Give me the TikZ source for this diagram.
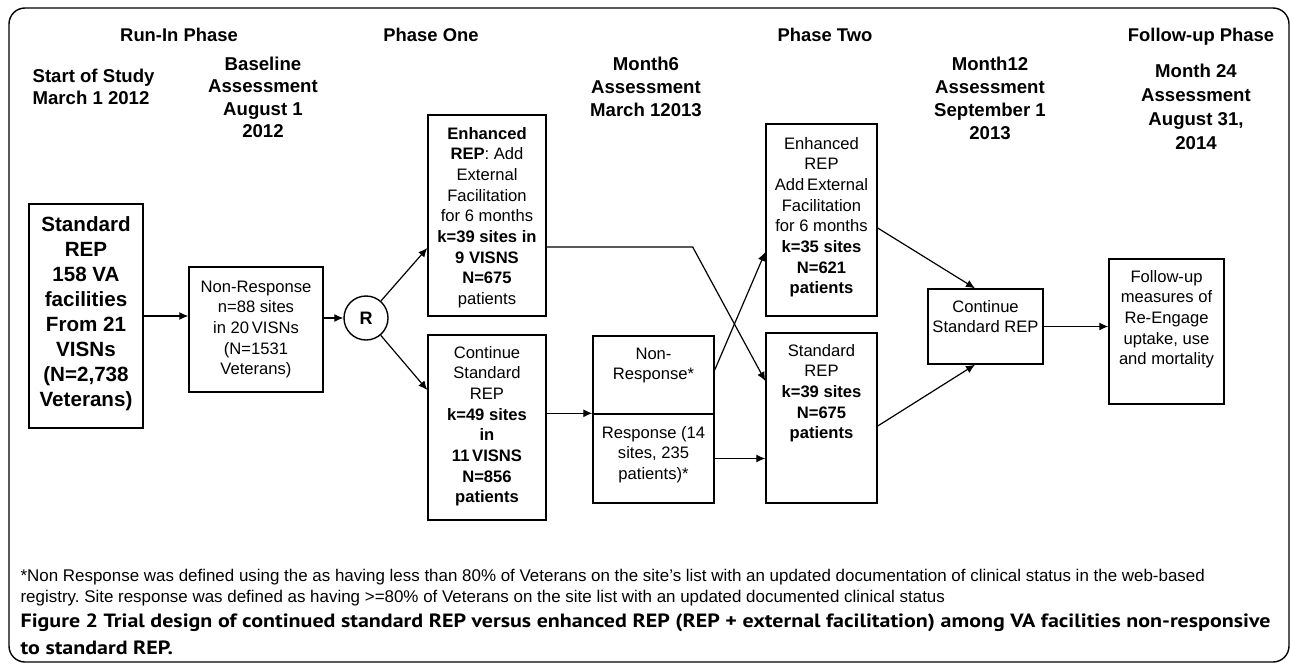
\documentclass[tikz,border=0pt]{standalone}
\usepackage{fontspec}
\setmainfont{Liberation Sans}
\newfontfamily\capfont[FakeStretch=1.145]{PT Sans}
\usetikzlibrary{arrows.meta,positioning,calc}

\newcommand{\boxtext}[4]{\parbox[c][#2][t]{#1}{\centering\rule{0pt}{#3}#4}}

\begin{document}
\begin{tikzpicture}[->,>={Latex[length=4.5pt,width=4pt]},x=0.5pt,y=-0.5pt,semithick]
  \tikzstyle{stage}=[draw=black,inner sep=0pt,line width=0.7pt,font=\fontsize{8.3}{10.35}\selectfont]
  \tikzstyle{phase}=[anchor=base,font=\bfseries\fontsize{9.2}{11}\selectfont]
  \tikzstyle{date}=[align=center,inner sep=0pt,anchor=north,font=\bfseries\fontsize{9.3}{11.3}\selectfont]

  \useasboundingbox (0,0) rectangle (1290,664);
  \draw[-,line width=0.7pt,rounded corners=8pt] (9,8) rectangle (1289,662);

  \node[phase] (runin) at (179,41.5) {Run-In Phase};
  \node[phase] (pone) at (431,41.5) {Phase One};
  \node[phase] (ptwo) at (825,41.5) {Phase Two};
  \node[phase] (pfu) at (1201,41.5) {Follow-up Phase};

  \node[date,anchor=north west,align=left] (start) at (32,68) {Start of Study\\March 1 2012};
  \node[date] (base) at (263,56) {Baseline\\Assessment\\August 1\\2012};
  \node[date,font=\bfseries\fontsize{9.3}{11.7}\selectfont] (m6) at (646,56) {Month6\\Assessment\\March 12013};
  \node[date,font=\bfseries\fontsize{9.3}{11.5}\selectfont] (m12) at (990,56) {Month12\\Assessment\\September 1\\2013};
  \node[date,font=\bfseries\fontsize{9.3}{12}\selectfont] (m24) at (1196,63) {Month 24\\Assessment\\August 31,\\2014};

  \node[stage] (std) at (86,316) {\boxtext{57pt}{112pt}{13.7pt}{\bfseries\fontsize{10.3}{12.5}\selectfont Standard\\REP\\158 VA\\facilities\\From 21\\VISNs\\(N=2,738\\Veterans)}};
  \node[stage] (nr) at (256,329.5) {\boxtext{67pt}{62.5pt}{12.5pt}{Non-Response\\n=88 sites\\in 20\,VISNs\\(N=1531\\Veterans)}};
  \node[stage,circle,minimum size=22pt,font=\bfseries\fontsize{9}{11}\selectfont] (R) at (366,318) {R};

  \node[stage] (enh1) at (487,215.5) {\boxtext{59pt}{100.5pt}{12pt}{\textbf{Enhanced}\\\textbf{REP}: Add\\External\\Facilitation\\for 6 months\\\textbf{k=39 sites in}\\\textbf{9 VISNS}\\\textbf{N=675}\\patients}};
  \node[stage] (cont1) at (487,427.5) {\boxtext{59pt}{92.5pt}{11.5pt}{Continue\\Standard\\REP\\\textbf{k=49 sites}\\\textbf{in}\\\textbf{11\,VISNS}\\\textbf{N=856}\\\textbf{patients}}};

  \node[stage] (nrsite) at (653.5,375) {\boxtext{60.5pt}{39pt}{11.5pt}{Non-\\Response*}};
  \node[stage] (resp) at (653.5,458.5) {\boxtext{60.5pt}{44.5pt}{12pt}{Response (14\\sites, 235\\patients)*}};

  \node[stage] (enh2) at (821.5,220) {\boxtext{55.5pt}{96pt}{12.5pt}{Enhanced\\REP\\Add\,External\\Facilitation\\for 6 months\\\textbf{k=35 sites}\\\textbf{N=621}\\\textbf{patients}}};
  \node[stage] (std2) at (821.5,418) {\boxtext{55.5pt}{85pt}{11.5pt}{Standard\\REP\\\textbf{k=39 sites}\\\textbf{N=675}\\\textbf{patients}}};
  \node[stage] (cont2) at (985.5,326.5) {\boxtext{57.5pt}{37.5pt}{11.5pt}{Continue\\Standard REP}};
  \node[stage] (fu) at (1166.5,331.5) {\boxtext{57.5pt}{72.5pt}{11.5pt}{Follow-up\\measures of\\Re-Engage\\uptake, use\\and mortality}};

  \node[anchor=north west,inner sep=0pt,align=left,font=\fontsize{8.47}{10.5}\selectfont] (note) at (20,569) {*Non Response was defined using the as having less than 80\% of Veterans on the site’s list with an updated documentation of clinical status in the web-based\\registry.\ Site response was defined as having >=80\% of Veterans on the site list with an updated documented clinical status};
  \node[anchor=north west,inner sep=0pt,align=left,font=\capfont\bfseries\fontsize{9.6}{13.5}\selectfont] (cap) at (20,613) {Figure 2 Trial design of continued standard REP versus enhanced REP (REP + external facilitation) among VA facilities non-responsive\\to standard REP.};

  \draw (std.east) -- (std.east -| nr.west);
  \draw (R.west -| nr.east) -- (R.west);
  \draw (R) -- ($(enh1.west)+(0,32.5)$);
  \draw (R) -- ($(cont1.west)+(0,-37.5)$);
  \draw (cont1.east |- resp.north west) -- (resp.north west);
  \draw ($(enh1.east)+(0,31.5)$) -- ++(146,0) -- ($(std2.west)+(0,-37)$);
  \draw ($(nrsite.east)+(0,-5)$) -- ($(enh2.west)+(0,32)$);
  \draw (resp.east) -- (resp.east -| std2.west);
  \draw ($(enh2.east)+(0,8)$) -- ($(cont2.north)+(-10.5,0)$);
  \draw ($(std2.east)+(0,8)$) -- ($(cont2.south)+(-10.5,0)$);
  \draw (cont2.east) -- (cont2.east -| fu.west);
\end{tikzpicture}
\end{document}
